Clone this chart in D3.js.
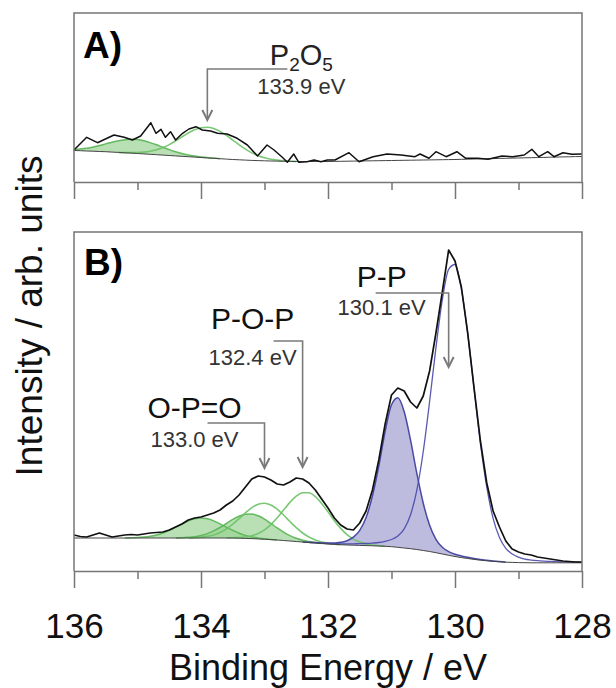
<!DOCTYPE html>
<html>
<head>
<meta charset="utf-8">
<script src="https://cdn.jsdelivr.net/npm/d3@7"></script>
<style>
  body { margin: 0; background: #fff; }
  svg { display: block; font-family: Arial, "Liberation Sans", Helvetica, sans-serif; }
</style>
</head>
<body>
<div id="chart"></div>
<script>
// ---- data (binding energy in eV, intensity in arb. units) ----

const majorTicks = [136, 134, 132, 130, 128];
const minorTicks = [135, 133, 131, 129];

// common energy grid used by backgrounds and fitted components
const bindingGrid = [
  136.0,135.9,135.8,135.7,135.6,135.5,135.4,135.3,135.2,135.1,
  135.0,134.9,134.8,134.7,134.6,134.5,134.4,134.3,134.2,134.1,
  134.0,133.9,133.8,133.7,133.6,133.5,133.4,133.3,133.2,133.1,
  133.0,132.9,132.8,132.7,132.6,132.5,132.4,132.3,132.2,132.1,
  132.0,131.9,131.8,131.7,131.6,131.5,131.4,131.3,131.2,131.1,
  131.0,130.9,130.8,130.7,130.6,130.5,130.4,130.3,130.2,130.1,
  130.0,129.9,129.8,129.7,129.6,129.5,129.4,129.3,129.2,129.1,
  129.0,128.9,128.8,128.7,128.6,128.5,128.4,128.3,128.2,128.1,
  128.0];

// panel A: raw spectrum
const energyA = [136.00,135.80,135.63,135.48,135.37,135.21,135.08,134.95,134.79,134.71,
  134.63,134.56,134.48,134.40,134.29,134.19,134.08,133.98,133.85,133.74,
  133.59,133.43,133.27,133.11,132.96,132.85,132.72,132.64,132.54,132.46,
  132.33,132.22,132.11,132.01,131.89,131.67,131.51,131.29,131.07,130.85,
  130.63,130.55,130.41,130.30,130.14,129.97,129.83,129.64,129.48,129.26,
  129.09,128.91,128.79,128.68,128.54,128.44,128.30,128.16,128.00];
const countsA = [32,44.7,39.3,43.7,47,44.7,42,46,59.3,48.7,
  52.7,44.7,50.3,42,48.7,53,55.3,52,51,48.7,
  48,43.7,37,26,37,32,24.7,19.7,28,19.7,
  20.3,22,20.3,22,22,29.3,20.3,25.3,28,27,
  25.3,28,23.7,30.3,25.3,30.3,23.7,23.7,22.7,26,
  25.3,27,32.7,25.3,30.3,25.3,29.3,27.7,28];

// panel A: background and P2O5 doublet (height above background)
const backgroundA = [
  31.5,31.3,31.0,30.8,30.5,30.3,29.9,29.6,29.2,28.9,
  28.5,28.1,27.7,27.3,26.9,26.5,26.1,25.7,25.3,24.9,
  24.5,24.1,23.7,23.3,22.9,22.5,22.2,21.9,21.6,21.4,
  21.2,21.0,20.9,20.7,20.6,20.5,20.5,20.5,20.5,20.5,
  20.5,20.6,20.7,20.8,20.9,21.0,21.1,21.2,21.3,21.4,
  21.5,21.6,21.7,21.8,21.9,22.0,22.1,22.2,22.3,22.4,
  22.5,22.7,22.8,23.0,23.1,23.3,23.4,23.6,23.7,23.9,
  24.0,24.2,24.3,24.5,24.6,24.8,24.9,25.1,25.2,25.4,
  25.5];
const p2o5HalfA = [
  1.1,1.8,2.8,4.2,5.9,7.8,9.9,11.7,13.1,13.9,
  13.9,13.1,11.7,9.9,7.8,5.9,4.2,2.8,1.8,1.1,
  0.6,0.3,0.2,0,0,0,0,0,0,0,
  0,0,0,0,0,0,0,0,0,0,
  0,0,0,0,0,0,0,0,0,0,
  0,0,0,0,0,0,0,0,0,0,
  0,0,0,0,0,0,0,0,0,0,
  0,0,0,0,0,0,0,0,0,0,
  0];
const p2o5MainA = [
  0,0,0,0,0,0,0,0,0.2,0.5,
  1.0,1.8,3.0,4.9,7.5,10.9,15.0,19.4,23.7,27.3,
  29.7,30.6,29.7,27.3,23.7,19.4,15.0,10.9,7.5,4.9,
  3.0,1.8,1.0,0.5,0.2,0,0,0,0,0,
  0,0,0,0,0,0,0,0,0,0,
  0,0,0,0,0,0,0,0,0,0,
  0,0,0,0,0,0,0,0,0,0,
  0,0,0,0,0,0,0,0,0,0,
  0];

// panel B: measured envelope and background
const envelopeB = [
  36,34.5,34,36,38,36,34,35,36,36.5,
  36,37,38,38.5,39,41,44,47,51,53,
  54,56,58,61,66,70,76,84,92,95,
  94,91,87,86,89,93,92,88,81,72,
  63,53,46,42,41,48,60,81,111,147,
  176,183,180,169,163,175,200,238,279,321,
  310,284,238,183,130,88,60,44,30,22,
  19,17,16,14,13,12,11,10,9.5,9,
  9];
const backgroundB = [
  33,33,33,33,33,33,33,33,33,33,
  33,33,33,33,33,33,33,33,33,33,
  33,33,33,33,33,33.0,32.8,32.6,32.4,32.1,
  31.8,31.4,31.0,30.5,30.0,29.5,29.0,28.5,28.0,27.5,
  27.0,26.6,26.3,26.0,25.8,25.6,25.4,25.2,25.0,24.7,
  24.3,23.7,23.0,22.3,21.5,20.5,19.5,18.3,17.0,15.7,
  14.5,13.4,12.5,11.6,10.8,10.2,9.6,9.2,8.8,8.6,
  8.4,8.3,8.2,8.2,8.2,8.2,8.2,8.2,8.2,8.2,
  8.2];

// panel B: fitted components (height above background)
const opoHalfB = [
  0,0,0,0,0,0,0,0,0,0.2,
  0.4,0.9,1.7,3.0,5.0,7.6,10.8,14.1,17.1,19.2,
  20,19.2,17.1,14.1,10.8,7.6,5.0,3.0,1.7,0.9,
  0.4,0.2,0,0,0,0,0,0,0,0,
  0,0,0,0,0,0,0,0,0,0,
  0,0,0,0,0,0,0,0,0,0,
  0,0,0,0,0,0,0,0,0,0,
  0,0,0,0,0,0,0,0,0,0,
  0];
const popHalfB = [
  0,0,0,0,0,0,0,0,0,0,
  0,0,0,0,0,0,0,0.3,0.7,1.3,
  2.5,4.4,7.1,10.5,14.5,18.6,22.0,24.1,24.5,23.1,
  20.1,16.2,12.1,8.4,5.3,3.2,1.7,0.9,0.4,0,
  0,0,0,0,0,0,0,0,0,0,
  0,0,0,0,0,0,0,0,0,0,
  0,0,0,0,0,0,0,0,0,0,
  0,0,0,0,0,0,0,0,0,0,
  0];
const opoMainB = [
  0,0,0,0,0,0,0,0,0,0,
  0,0,0,0,0,0,0,0,0,0.3,
  0.8,1.6,3.1,5.5,9.0,13.8,19.5,25.5,30.9,34.6,
  36,34.6,30.9,25.5,19.5,13.8,9.0,5.5,3.1,1.6,
  0.8,0.3,0,0,0,0,0,0,0,0,
  0,0,0,0,0,0,0,0,0,0,
  0,0,0,0,0,0,0,0,0,0,
  0,0,0,0,0,0,0,0,0,0,
  0];
const popMainB = [
  0,0,0,0,0,0,0,0,0,0,
  0,0,0,0,0,0,0,0,0,0,
  0,0,0,0,0,0.3,0.7,1.4,2.9,5.4,
  9.4,15.0,22.2,30.4,38.6,45.3,49.3,49.7,46.4,40.1,
  32.1,23.7,16.3,10.3,6.1,3.3,1.7,0.8,0.3,0,
  0,0,0,0,0,0,0,0,0,0,
  0,0,0,0,0,0,0,0,0,0,
  0,0,0,0,0,0,0,0,0,0,
  0];
const ppHalfB = [
  0,0,0,0,0,0,0,0,0,0,
  0,0,0,0,0,0,0,0,0,0,
  0,0,0,0,0,0,0,0,0,0,
  0,0,0,0,0,0,0,0.2,0.4,0.6,
  0.9,1.4,2.4,4.2,8,15,28,50,80,115,
  142,149.6,136.3,108.6,75.8,47.3,26.2,13.4,6.7,3.7,
  2.3,1.7,1.3,1.0,0.8,0.6,0.4,0.3,0,0,
  0,0,0,0,0,0,0,0,0,0,
  0];
const ppMainB = [
  0,0,0,0,0,0,0,0,0,0,
  0,0,0,0,0,0,0,0,0,0,
  0,0,0,0,0,0,0,0,0,0,
  0,0,0,0,0,0,0,0,0.3,0.4,
  0.5,0.7,0.9,1.1,1.4,1.7,2.1,2.7,3.5,5.0,
  7.2,11.2,19.1,34,59.7,99,150,205,254,286,
  292,269,225,171,117,74,43,24.4,13.9,8.4,
  5.5,3.5,2.7,2.1,1.7,1.4,1.1,0.9,0.7,0.6,
  0.5];

// annotation texts
const peakNamesB = ["O-P=O", "P-O-P", "P-P"];
const peakEnergiesB = [133.0, 132.4, 130.1];
const peakEnergyA = 133.9;

// ---- layout ----
const svgW = 616, svgH = 688;
const margin = { left: 74 };
const width = 508;
const panelA = { top: 13, height: 169 };
const panelB = { top: 232, height: 339 };

const frameColor = "#767676";
const green = "#56b452", greenFill = "#9ad394";
const blue = "#3a3a9c", blueFill = "#b6b5dc";

const svg = d3.select("#chart").append("svg")
  .attr("width", svgW)
  .attr("height", svgH);

const xScale = d3.scaleLinear().domain([136, 128]).range([0, width]);
const yA = d3.scaleLinear().domain([0, 169]).range([panelA.height, 0]);
const yB = d3.scaleLinear().domain([0, 339]).range([panelB.height, 0]);

const gA = svg.append("g").attr("transform", `translate(${margin.left},${panelA.top})`);
const gB = svg.append("g").attr("transform", `translate(${margin.left},${panelB.top})`);

//draw one fitted component on top of its background
function drawPeak(g, y, bg, h, filled, alpha) {
  const pts = bindingGrid
    .map((e, i) => ({ e: e, b: bg[i], v: bg[i] + h[i],
      on: h[i] > 0 || h[i - 1] > 0 || h[i + 1] > 0 }))
    .filter(p => p.on);
  if (filled) {
    g.append("path")
      .datum(pts)
      .attr("fill", filled)
      .attr("fill-opacity", alpha)
      .attr("stroke", "none")
      .attr("d", d3.area()
        .x(d => xScale(d.e))
        .y0(d => y(d.b))
        .y1(d => y(d.v))
        .curve(d3.curveMonotoneX));
  }
  return pts;
}

function strokePeak(g, y, pts, color, w) {
  g.append("path")
    .datum(pts)
    .attr("fill", "none")
    .attr("stroke", color)
    .attr("stroke-width", w)
    .attr("stroke-opacity", 0.9)
    .attr("d", d3.line()
      .x(d => xScale(d.e))
      .y(d => y(d.v))
      .curve(d3.curveMonotoneX));
}

function drawBackground(g, y, bg) {
  g.append("path")
    .datum(bindingGrid.map((e, i) => ({ e: e, v: bg[i] })))
    .attr("fill", "none")
    .attr("stroke", "#444")
    .attr("stroke-width", 1)
    .attr("d", d3.line().x(d => xScale(d.e)).y(d => y(d.v)).curve(d3.curveMonotoneX));
}

function drawFrame(g, h, labels) {
  g.append("path")
    .attr("d", `M0,${h}V0H${width}V${h}`)
    .attr("fill", "none")
    .attr("stroke", frameColor)
    .attr("stroke-width", 1.5);

  const major = g.append("g")
    .attr("transform", `translate(0,${h})`)
    .call(d3.axisBottom(xScale)
      .tickValues(majorTicks)
      .tickSize(17)
      .tickSizeOuter(0)
      .tickPadding(25)
      .tickFormat(labels ? d3.format("d") : ""));
  major.select(".domain").attr("stroke", frameColor).attr("stroke-width", 1.5);
  major.selectAll(".tick line").attr("stroke", frameColor).attr("stroke-width", 1.5);
  major.selectAll(".tick text")
    .attr("fill", "#111")
    .style("font-size", "35px")
    .style("font-family", "Arial, 'Liberation Sans', sans-serif");

  const minor = g.append("g")
    .attr("transform", `translate(0,${h})`)
    .call(d3.axisBottom(xScale)
      .tickValues(minorTicks)
      .tickSize(8)
      .tickSizeOuter(0)
      .tickFormat(""));
  minor.select(".domain").remove();
  minor.selectAll(".tick line").attr("stroke", frameColor).attr("stroke-width", 1.5);
}

function arrowDown(g, x, yTip, yElbow, xStart) {
  g.append("path")
    .attr("d", `M${xStart},${yElbow}H${x}V${yTip - 1}`)
    .attr("fill", "none")
    .attr("stroke", "#7a7a7a")
    .attr("stroke-width", 1.6);
  g.append("path")
    .attr("d", `M${x - 5},${yTip - 10}L${x},${yTip}L${x + 5},${yTip - 10}`)
    .attr("fill", "none")
    .attr("stroke", "#7a7a7a")
    .attr("stroke-width", 2);
}

// ---- panel A ----
const ptsA1 = drawPeak(gA, yA, backgroundA, p2o5HalfA, greenFill, 0.7);
const ptsA2 = drawPeak(gA, yA, backgroundA, p2o5MainA, null);
strokePeak(gA, yA, ptsA1, green, 1.5);
strokePeak(gA, yA, ptsA2, "#6cc266", 1.6);
drawBackground(gA, yA, backgroundA);

gA.append("path")
  .datum(energyA.map((e, i) => ({ e: e, v: countsA[i] })))
  .attr("fill", "none")
  .attr("stroke", "#111")
  .attr("stroke-width", 1.5)
  .attr("stroke-linejoin", "round")
  .attr("d", d3.line().x(d => xScale(d.e)).y(d => yA(d.v)));

drawFrame(gA, panelA.height, false);

gA.append("text")
  .attr("x", 9).attr("y", 45)
  .style("font-size", "37px").style("font-weight", "bold")
  .text("A)");

{
  const ax = xScale(peakEnergyA);
  const elbow = yA(113);
  arrowDown(gA, ax, yA(62), elbow, ax + 80);
  const lab = gA.append("text")
    .attr("x", ax + 94).attr("y", elbow - 4)
    .attr("text-anchor", "middle")
    .attr("fill", "#222")
    .style("font-size", "29px");
  lab.append("tspan").text("P");
  lab.append("tspan").attr("dy", 6).style("font-size", "19px").text("2");
  lab.append("tspan").attr("dy", -6).text("O");
  lab.append("tspan").attr("dy", 6).style("font-size", "19px").text("5");
  gA.append("text")
    .attr("x", ax + 94).attr("y", elbow + 25)
    .attr("text-anchor", "middle")
    .attr("fill", "#333")
    .style("font-size", "22px")
    .text(`${peakEnergyA.toFixed(1)} eV`);
}

// ---- panel B ----
const ptsG1 = drawPeak(gB, yB, backgroundB, opoHalfB, greenFill, 0.7);
const ptsG2 = drawPeak(gB, yB, backgroundB, popHalfB, greenFill, 0.7);
const ptsG3 = drawPeak(gB, yB, backgroundB, opoMainB, null);
const ptsG4 = drawPeak(gB, yB, backgroundB, popMainB, null);
const ptsP1 = drawPeak(gB, yB, backgroundB, ppHalfB, blueFill, 0.9);
const ptsP2 = drawPeak(gB, yB, backgroundB, ppMainB, null);
[ptsG1, ptsG2].forEach(p => strokePeak(gB, yB, p, green, 1.5));
[ptsG3, ptsG4].forEach(p => strokePeak(gB, yB, p, "#6cc266", 1.6));
strokePeak(gB, yB, ptsP1, blue, 1.5);
strokePeak(gB, yB, ptsP2, "#4848aa", 1.3);
drawBackground(gB, yB, backgroundB);

gB.append("path")
  .datum(bindingGrid.map((e, i) => ({ e: e, v: envelopeB[i] })))
  .attr("fill", "none")
  .attr("stroke", "#111")
  .attr("stroke-width", 1.7)
  .attr("stroke-linejoin", "round")
  .attr("d", d3.line().x(d => xScale(d.e)).y(d => yB(d.v)));

drawFrame(gB, panelB.height, true);

gB.append("text")
  .attr("x", 10).attr("y", 43)
  .style("font-size", "37px").style("font-weight", "bold")
  .text("B)");

// arrow tip / elbow intensities and text offsets for each label
const annLayout = [
  { tip: 103, elbow: 148, lineDx: -57, textDx: -70, nameDy: -5, evDy: 24 },
  { tip: 104, elbow: 230, lineDx: -29, textDx: -50, nameDy: -12, evDy: 24 },
  { tip: 204, elbow: 278, lineDx: -73, textDx: -67, nameDy: -6, evDy: 22 }
];

peakNamesB.forEach((name, i) => {
  const L = annLayout[i];
  const ax = xScale(peakEnergiesB[i]);
  const elbow = yB(L.elbow);
  arrowDown(gB, ax, yB(L.tip), elbow, ax + L.lineDx);
  gB.append("text")
    .attr("x", ax + L.textDx).attr("y", elbow + L.nameDy)
    .attr("text-anchor", "middle")
    .attr("fill", "#111")
    .style("font-size", "30px")
    .text(name);
  gB.append("text")
    .attr("x", ax + L.textDx).attr("y", elbow + L.evDy)
    .attr("text-anchor", "middle")
    .attr("fill", "#333")
    .style("font-size", "22px")
    .text(`${peakEnergiesB[i].toFixed(1)} eV`);
});

// ---- axis titles ----
svg.append("text")
  .attr("x", margin.left + width / 2)
  .attr("y", 680)
  .attr("text-anchor", "middle")
  .attr("fill", "#111")
  .style("font-size", "36px")
  .text("Binding Energy / eV");

svg.append("text")
  .attr("transform", "translate(42,316) rotate(-90)")
  .attr("text-anchor", "middle")
  .attr("fill", "#111")
  .style("font-size", "37px")
  .text("Intensity / arb. units");
</script>
</body>
</html>
